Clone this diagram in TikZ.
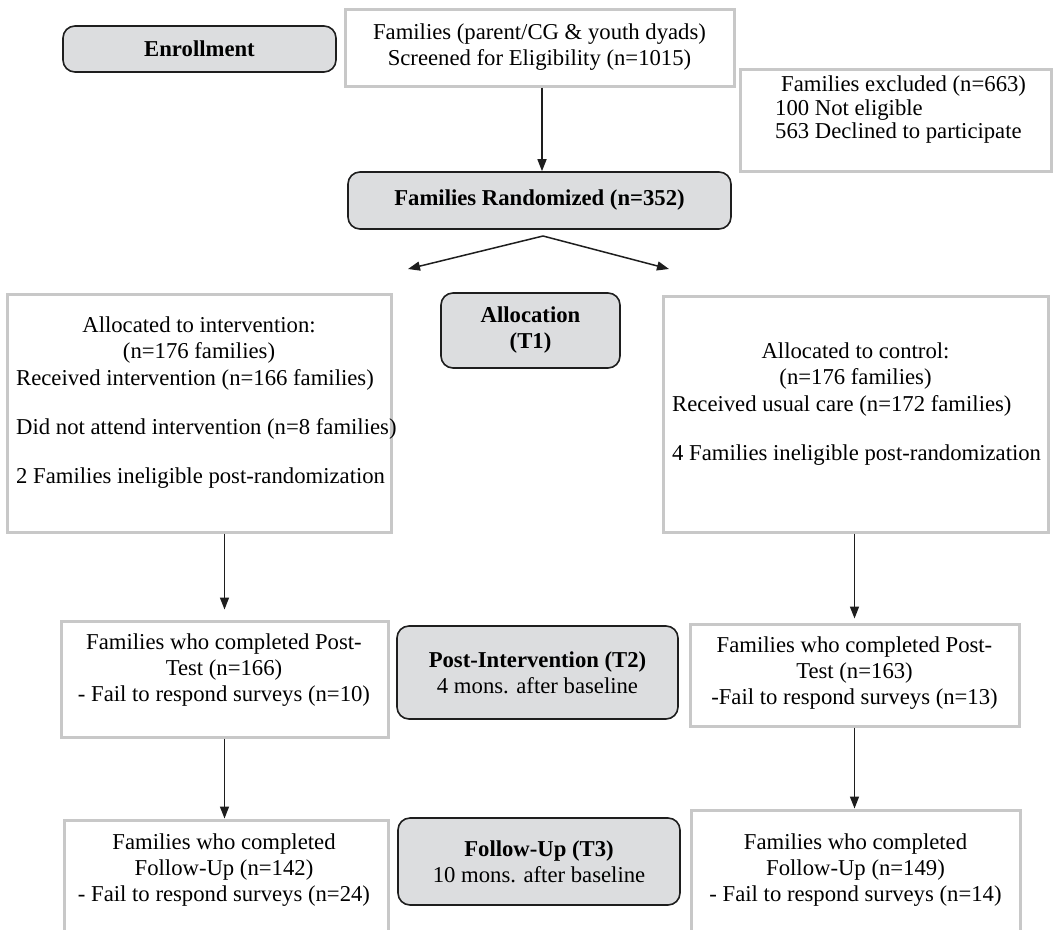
\documentclass[tikz,border=0pt]{standalone}
\usepackage{fontspec}
\setmainfont{Liberation Serif}
\usetikzlibrary{arrows.meta}
\definecolor{boxgray}{RGB}{200,200,200}
\definecolor{fillgray}{RGB}{220,221,223}
\definecolor{edgedark}{RGB}{30,30,30}
\begin{document}
\begin{tikzpicture}[x=1pt,y=-1pt,
  every node/.style={font=\fontsize{22.7}{26}\selectfont},
  boldtxt/.style={font=\fontsize{22.7}{26}\selectfont\bfseries},
  plainbox/.style={draw=boxgray, line width=3pt, inner sep=0pt, rectangle},
  roundbox/.style={draw=edgedark, fill=fillgray, line width=1.6pt, rounded corners=12pt, inner sep=0pt, align=center},
  txt/.style={inner sep=0pt, align=center},
  ltxt/.style={inner sep=0pt, align=left, anchor=west},
  arr/.style={-{Triangle[length=12pt,width=9pt]}, line width=1.5pt, draw=edgedark}
]
\useasboundingbox (0,0) rectangle (1054,929);
\clip (0,0) rectangle (1054,929);
\fill[white] (0,0) rectangle (1054,929);

% boxes
\node[roundbox, boldtxt, minimum width=273pt, minimum height=46pt] (enroll) at (199.5,49) {Enrollment};
\node[plainbox, txt, minimum width=389pt, minimum height=77pt] (screen) at (539.5,47.5) {Families (parent/CG \& youth dyads)\\Screened for Eligibility (n=1015)};
\node[plainbox, minimum width=311pt, minimum height=102pt] (excl) at (895.5,120) {};
\node[roundbox, boldtxt, minimum width=383pt, minimum height=57pt] (rand) at (539.5,200.5) {Families Randomized (n=352)};

\node[plainbox, minimum width=384pt, minimum height=238pt] (intv) at (199,413) {};
\node[roundbox, boldtxt, minimum width=179pt, minimum height=75pt] (alloc) at (530.5,330.5) {Allocation\\(T1)};
\node[plainbox, minimum width=385pt, minimum height=236pt] (ctrl) at (855.5,414) {};

\node[plainbox, minimum width=327pt, minimum height=116pt] (postL) at (224.5,679) {};
\node[roundbox, minimum width=281pt, minimum height=93pt] (postT) at (537.5,672.5) {\textbf{Post-Intervention (T2)}\\4 mons. after baseline};
\node[plainbox, minimum width=329pt, minimum height=102pt] (postR) at (854.5,675) {};

\node[plainbox, minimum width=324pt, minimum height=140pt] (follL) at (226,890) {};
\node[roundbox, minimum width=282pt, minimum height=87pt] (follT) at (539,861.5) {\textbf{Follow-Up (T3)}\\10 mons. after baseline};
\node[plainbox, minimum width=329pt, minimum height=150pt] (follR) at (855.5,885) {};

% texts
\node[ltxt, font=\fontsize{22.7}{23.5}\selectfont] (excl-t) at (775,110) {\hspace*{6pt}Families excluded (n=663)\\100 Not eligible\\563 Declined to participate};

\node[txt] (intv-t1) at (199,340) {Allocated to intervention:\\(n=176 families)};
\node[ltxt] (intv-t2) at (16,429) {Received intervention (n=166 families)\\[23pt]Did not attend intervention (n=8 families)\\[23pt]2 Families ineligible post-randomization};

\node[txt] (ctrl-t1) at (855.5,366) {Allocated to control:\\(n=176 families)};
\node[ltxt] (ctrl-t2) at (672,430.5) {Received usual care (n=172 families)\\[23pt]4 Families ineligible post-randomization};

\node[txt] (postL-t) at (224,670) {Families who completed Post-\\Test (n=166)\\- Fail to respond surveys (n=10)};
\node[txt] (postR-t) at (854.5,673.5) {Families who completed Post-\\Test (n=163)\\-Fail to respond surveys (n=13)};
\node[txt] (follL-t) at (224,870) {Families who completed\\Follow-Up (n=142)\\- Fail to respond surveys (n=24)};
\node[txt] (follR-t) at (855.5,870.5) {Families who completed\\Follow-Up (n=149)\\- Fail to respond surveys (n=14)};

% connectors
\coordinate (split) at (543,236);
\coordinate (tipL) at (408,269);
\coordinate (tipR) at (669,269);

\draw[arr] ([xshift=2.5pt]screen.south) -- ([xshift=2.5pt]rand.north);
\draw[arr] (split) -- (tipL);
\draw[arr] (split) -- (tipR);
\draw[arr] (intv.south -| postL.north) -- ([yshift=10pt]postL.north);
\draw[arr] (postL.south) -- (postL.south |- follL.north);
\draw[arr] (ctrl.south -| postR.north) -- ([yshift=4pt]postR.north);
\draw[arr] (postR.south) -- (postR.south |- follR.north);
\end{tikzpicture}
\end{document}
